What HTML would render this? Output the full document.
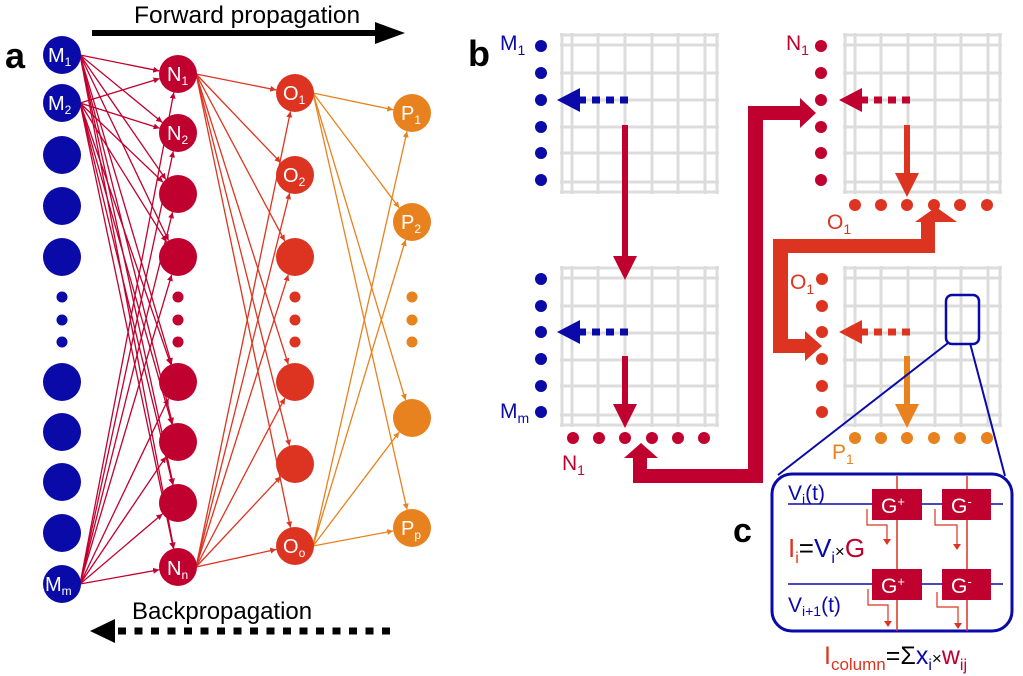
<!DOCTYPE html>
<html><head><meta charset="utf-8"><style>
html,body{margin:0;padding:0;background:#fff;}
svg{display:block;font-family:"Liberation Sans",Arial,sans-serif;}
</style></head><body>
<svg id="s" width="1023" height="676" viewBox="0 0 1023 676" xmlns="http://www.w3.org/2000/svg">
<defs>
<marker id="aC" viewBox="0 0 10 10" refX="10" refY="5" markerWidth="6" markerHeight="6" orient="auto" markerUnits="userSpaceOnUse"><path d="M0,0L10,5L0,10z" fill="#c0002f"/></marker>
<marker id="aO" viewBox="0 0 10 10" refX="10" refY="5" markerWidth="6" markerHeight="6" orient="auto" markerUnits="userSpaceOnUse"><path d="M0,0L10,5L0,10z" fill="#dc3420"/></marker>
<marker id="aP" viewBox="0 0 10 10" refX="10" refY="5" markerWidth="6" markerHeight="6" orient="auto" markerUnits="userSpaceOnUse"><path d="M0,0L10,5L0,10z" fill="#e8821e"/></marker>
</defs>
<g id="lines"></g>
<g id="nodes"></g>
<g id="grids"></g>
<!-- panel a text -->
<text x="5" y="68" font-size="36" font-weight="bold">a</text>
<text x="134" y="23" font-size="24.5">Forward propagation</text>
<line x1="92" y1="33" x2="378" y2="33" stroke="#000" stroke-width="6"/>
<path d="M375,22L405,33L375,44z" fill="#000"/>
<text x="132" y="619" font-size="24">Backpropagation</text>
<line x1="118" y1="631" x2="397" y2="631" stroke="#000" stroke-width="7" stroke-dasharray="8,8.5"/>
<path d="M90,631L115,619L115,643z" fill="#000"/>
<g fill="#fff" font-size="20">
<text x="48" y="62">M<tspan font-size="12" dy="4">1</tspan></text>
<text x="48" y="110">M<tspan font-size="12" dy="4">2</tspan></text>
<text x="45" y="591">M<tspan font-size="12" dy="4">m</tspan></text>
<text x="167" y="81">N<tspan font-size="12" dy="4">1</tspan></text>
<text x="167" y="140">N<tspan font-size="12" dy="4">2</tspan></text>
<text x="167" y="575">N<tspan font-size="12" dy="4">n</tspan></text>
<text x="283" y="100">O<tspan font-size="12" dy="4">1</tspan></text>
<text x="283" y="182">O<tspan font-size="12" dy="4">2</tspan></text>
<text x="283" y="553">O<tspan font-size="12" dy="4">o</tspan></text>
<text x="401" y="120">P<tspan font-size="12" dy="4">1</tspan></text>
<text x="401" y="229">P<tspan font-size="12" dy="4">2</tspan></text>
<text x="401" y="535">P<tspan font-size="12" dy="4">p</tspan></text>
</g>
<!-- panel b -->
<text x="468" y="66" font-size="36" font-weight="bold">b</text>
<g font-size="21">
<text x="500" y="50" fill="#0a0aa8">M<tspan font-size="14" dy="5">1</tspan></text>
<text x="500" y="418" fill="#0a0aa8">M<tspan font-size="14" dy="5">m</tspan></text>
<text x="786" y="50" fill="#c0002f">N<tspan font-size="14" dy="5">1</tspan></text>
<text x="562" y="470" fill="#c0002f">N<tspan font-size="14" dy="5">1</tspan></text>
<text x="827" y="229" fill="#dc3420">O<tspan font-size="14" dy="5">1</tspan></text>
<text x="790" y="289" fill="#dc3420">O<tspan font-size="14" dy="5">1</tspan></text>
<text x="832" y="459" fill="#e8821e">P<tspan font-size="14" dy="5">1</tspan></text>
</g>
<!-- big crimson path -->
<path d="M633,490L633,458L624,458L641,443L658,458L647,458L647,469L748,469L748,106L800,106L800,98L816,113L800,128L800,120L763,120L763,483L633,483z" fill="#c0002f"/>
<!-- O path -->
<path d="M773,239L921,239L921,222L915,222L936,207L957,222L935,222L935,253L788,253L788,339L805,339L805,331L822,346L805,361L805,353L773,353z" fill="#dc3420"/>
<!-- zoom box -->
<rect x="946" y="295" width="33" height="49" rx="6" fill="none" stroke="#0a0aa8" stroke-width="2.5"/>
<line x1="948" y1="343" x2="778" y2="475" stroke="#0a0aa8" stroke-width="2"/>
<line x1="970" y1="343" x2="1005" y2="476" stroke="#0a0aa8" stroke-width="2"/>
<!-- panel c -->
<text x="733" y="542" font-size="34" font-weight="bold">c</text>
<rect x="772" y="474" width="240" height="157" rx="20" fill="#fff" stroke="#0a0aa8" stroke-width="3"/>
<line x1="788" y1="504" x2="1003" y2="504" stroke="#0a0aa8" stroke-width="1.5"/>
<line x1="788" y1="584" x2="1003" y2="584" stroke="#0a0aa8" stroke-width="1.5"/>
<line x1="897" y1="476" x2="897" y2="631" stroke="#dc3420" stroke-width="1.5"/>
<line x1="967" y1="476" x2="967" y2="631" stroke="#dc3420" stroke-width="1.5"/>
<g fill="#c0002f"><rect x="872" y="489" width="50" height="31"/><rect x="942" y="489" width="49" height="31"/><rect x="872" y="569" width="50" height="31"/><rect x="942" y="569" width="49" height="31"/></g>
<g fill="#fff" font-size="21"><text x="881" y="513">G<tspan font-size="13" dy="-7">+</tspan></text><text x="951" y="513">G<tspan font-size="13" dy="-7">-</tspan></text><text x="881" y="593">G<tspan font-size="13" dy="-7">+</tspan></text><text x="951" y="593">G<tspan font-size="13" dy="-7">-</tspan></text></g>
<g fill="none" stroke="#dc3420" stroke-width="1.2">
<path d="M867,509L867,525L887,525L887,540"/><path d="M935,509L935,525L957,525L957,545"/>
<path d="M868,589L868,605L888,605L888,622"/><path d="M937,592L937,607L958,607L958,624"/></g>
<g fill="#dc3420"><path d="M883,539L891,539L887,545z"/><path d="M953,544L961,544L957,550z"/><path d="M884,621L892,621L888,627z"/><path d="M954,623L962,623L958,629z"/></g>
<text x="788" y="500" font-size="21" fill="#0a0aa8">V<tspan font-size="14" dy="4">i</tspan><tspan dy="-4">(t)</tspan></text>
<text x="788" y="612" font-size="21" fill="#0a0aa8">V<tspan font-size="14" dy="4">i+1</tspan><tspan dy="-4">(t)</tspan></text>
<text x="788" y="557" font-size="26"><tspan fill="#dc3420">I</tspan><tspan fill="#dc3420" font-size="16" dy="6">i</tspan><tspan dy="-6">=</tspan><tspan fill="#0a0aa8">V</tspan><tspan fill="#0a0aa8" font-size="16" dy="6">i</tspan><tspan dy="-6" font-size="17">×</tspan><tspan fill="#c0002f">G</tspan></text>
<text x="824" y="664" font-size="25"><tspan fill="#dc3420">I</tspan><tspan fill="#dc3420" font-size="17" dy="6">column</tspan><tspan dy="-6">=Σ</tspan><tspan fill="#0a0aa8">x</tspan><tspan fill="#0a0aa8" font-size="16" dy="6">i</tspan><tspan dy="-6" font-size="17">×</tspan><tspan fill="#c0002f">w</tspan><tspan fill="#c0002f" font-size="16" dy="6">ij</tspan></text>
<script>
var NS="http://www.w3.org/2000/svg";
function el(p,t,a){var e=document.createElementNS(NS,t);for(var k in a)e.setAttribute(k,a[k]);document.getElementById(p).appendChild(e);return e;}
var B="#0a0aa8",C="#c0002f",O="#dc3420",P="#e8821e";
var M=[55,103,155,206,257,382,432,482,533,584];
var N=[74,133,194,257,382,442,503,567];
var Oy=[93,175,257,382,464,546];
var Py=[113,222,418,528];
var dots=[297,320,342];
var r=19;
function conn(sx,sys,tx,tys,col,mk){sys.forEach(function(sy){tys.forEach(function(ty){
 var dx=tx-sx,dy=ty-sy,L=Math.sqrt(dx*dx+dy*dy);var ex=tx-dx/L*r,ey=ty-dy/L*r;
 el("lines","line",{x1:sx+r*0.95,y1:sy,x2:ex,y2:ey,stroke:col,"stroke-width":1.3,"marker-end":"url(#"+mk+")"});});});}
conn(62,[55,103,584],178,N,C,"aC");
conn(178,[74,567],295,Oy,O,"aO");
conn(295,[93,546],412,Py,P,"aP");
function col(x,ys,c){ys.forEach(function(y){el("nodes","circle",{cx:x,cy:y,r:r,fill:c});});dots.forEach(function(y){el("nodes","circle",{cx:x,cy:y,r:5.5,fill:c});});}
col(62,M,B);col(178,N,C);col(295,Oy,O);col(412,Py,P);
function grid(x0,y0){var xs=[2,12,38,65,92,118,145,157],ys=[2,12,40,67,94,120,149,159];
 xs.forEach(function(x){el("grids","line",{x1:x0+x,y1:y0,x2:x0+x,y2:y0+161,stroke:"#dcdcdc","stroke-width":3});});
 ys.forEach(function(y){el("grids","line",{x1:x0,y1:y0+y,x2:x0+159,y2:y0+y,stroke:"#dcdcdc","stroke-width":3});});}
grid(560,33);grid(843,33);grid(560,266);grid(843,266);
function vdots(x,ys,c){ys.forEach(function(y){el("grids","circle",{cx:x,cy:y,r:6,fill:c});});}
var tY=[46,73,100,127,153,180],bY=[279,306,332,359,386,412];
vdots(541,tY,B);vdots(541,bY,B);vdots(821,tY,C);vdots(822,bY,O);
function hdots(xs,y,c){xs.forEach(function(x){el("grids","circle",{cx:x,cy:y,r:6,fill:c});});}
hdots([573,599,625,652,678,704],438,C);hdots([855,881,907,934,960,987],205,O);hdots([855,881,907,934,960,987],438,P);
function dash(x1,x2,y,c){el("grids","line",{x1:x2,y1:y,x2:x1+20,y2:y,stroke:c,"stroke-width":7,"stroke-dasharray":"8,6"});
 el("grids","path",{d:"M"+x1+","+y+"L"+(x1+23)+","+(y-12)+"L"+(x1+23)+","+(y+12)+"z",fill:c});}
dash(557,628,100,B);dash(557,628,332,B);dash(839,910,100,C);dash(839,910,332,O);
function down(x,y1,y2,c){el("grids","line",{x1:x,y1:y1,x2:x,y2:y2-20,stroke:c,"stroke-width":6});
 el("grids","path",{d:"M"+(x-12)+","+(y2-24)+"L"+(x+12)+","+(y2-24)+"L"+x+","+y2+"z",fill:c});}
down(625,125,280,C);down(625,356,428,C);down(907,125,197,O);down(907,356,428,P);
</script>
</svg>
</body></html>
